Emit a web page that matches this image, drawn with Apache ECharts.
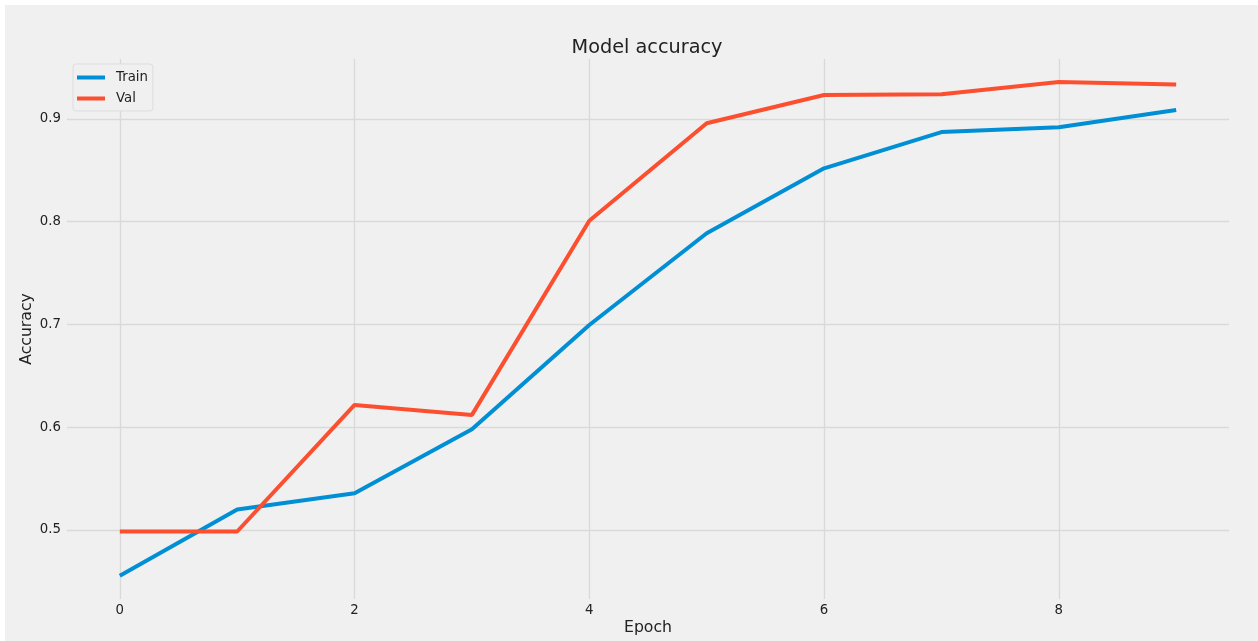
<!DOCTYPE html>
<html>
<head>
<meta charset="utf-8">
<script src="https://cdn.jsdelivr.net/npm/echarts@6/dist/echarts.min.js"></script>
<style>
html,body{margin:0;padding:0;background:#ffffff;width:1258px;height:641px;overflow:hidden;}
#chart{position:absolute;left:5px;top:5px;width:1253px;height:636px;}
</style>
</head>
<body>
<div id="chart"></div>
<script>
const epochs = [0, 1, 2, 3, 4, 5, 6, 7, 8, 9];
const trainAcc = [0.4555, 0.520, 0.5357, 0.598, 0.6995, 0.7888, 0.852, 0.8873, 0.8919, 0.9088];
const valAcc = [0.4985, 0.4985, 0.6217, 0.612, 0.801, 0.8958, 0.9234, 0.924, 0.936, 0.9336];
const xTicks = [0, 2, 4, 6, 8];
const yTicks = [0.5, 0.6, 0.7, 0.8, 0.9];

const font = 'DejaVu Sans';
const chart = echarts.init(document.getElementById('chart'), null, {renderer: 'canvas'});
chart.setOption({
  backgroundColor: '#f0f0f0',
  animation: false,
  title: {
    text: 'Model accuracy',
    left: 637, top: 28, textAlign: 'center',
    textStyle: {fontFamily: font, fontSize: 19.3, fontWeight: 'normal', color: '#222'}
  },
  legend: {
    left: 68, top: 59, orient: 'vertical',
    backgroundColor: '#f0f0f0', borderColor: '#dddddd', borderWidth: 1, borderRadius: 3,
    padding: [6, 5, 5, 4],
    icon: 'rect', itemWidth: 28, itemHeight: 4, itemGap: 6,
    textStyle: {fontFamily: font, fontSize: 13.3, color: '#222', lineHeight: 15, padding: [0, 0, 0, 6]},
    data: ['Train', 'Val']
  },
  grid: {left: 62, top: 54, width: 1162, height: 540, containLabel: false},
  xAxis: {
    type: 'value', min: -0.45, max: 9.45,
    name: 'Epoch', nameLocation: 'middle', nameGap: 21, nameMoveOverlap: false,
    nameTextStyle: {fontFamily: font, fontSize: 15.7, color: '#222'},
    axisLine: {show: false},
    axisTick: {show: false, customValues: xTicks},
    axisLabel: {customValues: xTicks, fontFamily: font, fontSize: 13.3, color: '#222', margin: 5},
    splitLine: {show: true, lineStyle: {color: '#d9d9d9', width: 1.3}}
  },
  yAxis: {
    type: 'value', min: 0.4328, max: 0.9584,
    name: 'Accuracy', nameLocation: 'middle', nameGap: 32, nameRotate: 90, nameMoveOverlap: false,
    nameTextStyle: {fontFamily: font, fontSize: 15.7, color: '#222'},
    axisLine: {show: false},
    axisTick: {show: false, customValues: yTicks},
    axisLabel: {customValues: yTicks, fontFamily: font, fontSize: 13.3, color: '#222', margin: 6,
      formatter: v => (Math.round(v * 10) / 10).toString()},
    splitLine: {show: true, lineStyle: {color: '#d9d9d9', width: 1.3}}
  },
  series: [
    {name: 'Train', type: 'line', data: epochs.map((e, i) => [e, trainAcc[i]]),
      showSymbol: false, symbol: 'none', lineStyle: {color: '#008fd5', width: 4}, itemStyle: {color: '#008fd5'}},
    {name: 'Val', type: 'line', data: epochs.map((e, i) => [e, valAcc[i]]),
      showSymbol: false, symbol: 'none', lineStyle: {color: '#fc4f30', width: 4}, itemStyle: {color: '#fc4f30'}}
  ]
});
</script>
</body>
</html>
